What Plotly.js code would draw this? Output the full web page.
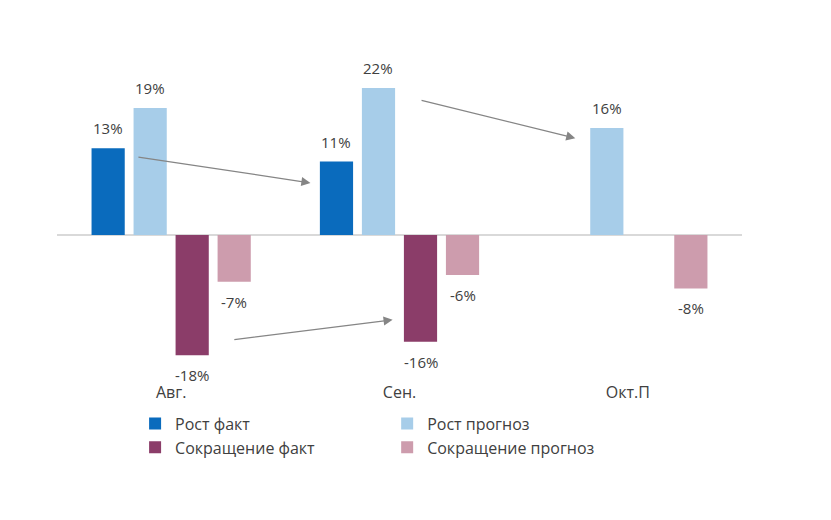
<!DOCTYPE html>
<html>
<head>
<meta charset="utf-8">
<script src="https://cdn.plot.ly/plotly-3.0.1.min.js"></script>
<style>html,body{margin:0;padding:0;background:#fff;}#chart{width:831px;height:520px;}</style>
</head>
<body>
<div id="chart"></div>
<script>
// ---- data ----
const categories = ["Авг.", "Сен.", "Окт.П"];
const seriesNames = ["Рост факт", "Рост прогноз", "Сокращение факт", "Сокращение прогноз"];
const growthFact = [13, 11, null];
const growthForecast = [19, 22, 16];
const cutFact = [-18, -16, null];
const cutForecast = [-7, -6, -8];

// ---- style ----
const colors = ["#0a6bbd", "#a7cde9", "#8b3d69", "#cd9cad"];
const legendIds = ["legend", "legend2", "legend", "legend2"];
const seriesValues = [growthFact, growthForecast, cutFact, cutForecast];
const bargap = 0.264;
const nSeries = seriesValues.length;
const slot = (1 - bargap) / nSeries;
const fontFamily = "'Open Sans', 'Noto Sans', sans-serif";

const traces = seriesValues.map((vals, i) => ({
  type: "bar",
  name: seriesNames[i],
  x: categories,
  y: vals,
  marker: {color: colors[i]},
  legend: legendIds[i],
  hoverinfo: "skip"
}));

const annotations = [];
seriesValues.forEach((vals, i) => {
  vals.forEach((v, j) => {
    if (v === null) return;
    annotations.push({
      x: j + (i - (nSeries - 1) / 2) * slot,
      y: v,
      xref: "x", yref: "y",
      text: v + "%",
      showarrow: false,
      yshift: v >= 0 ? 20 : -20,
      font: {family: fontFamily, size: 15, color: "#404040"}
    });
  });
});

// trend arrows (decorative)
const arrows = [
  {tail: [-0.15, 11.7], head: [0.61, 7.8]},
  {tail: [0.27, -15.7], head: [0.97, -12.7]},
  {tail: [1.09, 20.2], head: [1.77, 14.5]}
];
arrows.forEach(a => {
  annotations.push({
    x: a.head[0], y: a.head[1], ax: a.tail[0], ay: a.tail[1],
    xref: "x", yref: "y", axref: "x", ayref: "y",
    text: "", showarrow: true, arrowhead: 2, arrowsize: 1.4,
    arrowwidth: 1.3, arrowcolor: "#858585"
  });
});

const legendFont = {family: fontFamily, size: 16, color: "#404040"};

const layout = {
  width: 831, height: 520,
  margin: {l: 57, r: 89, t: 40, b: 139},
  paper_bgcolor: "#ffffff", plot_bgcolor: "#ffffff",
  barmode: "group",
  bargap: bargap,
  bargroupgap: 0.21,
  font: {family: fontFamily, size: 15, color: "#404040"},
  showlegend: true,
  xaxis: {
    type: "category",
    range: [-0.5, 2.5],
    showline: false, showgrid: false, zeroline: false,
    ticks: "", tickfont: {family: fontFamily, size: 16, color: "#404040"},
    fixedrange: true
  },
  yaxis: {
    range: [-21.86, 29.19],
    showgrid: false, showticklabels: false, ticks: "",
    zeroline: true, zerolinecolor: "#d9d9d9", zerolinewidth: 2,
    showline: false, fixedrange: true
  },
  legend: {
    x: 0.114, y: -0.075, xanchor: "left", yanchor: "top",
    orientation: "v", bgcolor: "rgba(0,0,0,0)",
    font: legendFont, traceorder: "normal"
  },
  legend2: {
    x: 0.482, y: -0.075, xanchor: "left", yanchor: "top",
    orientation: "v", bgcolor: "rgba(0,0,0,0)",
    font: legendFont, traceorder: "normal"
  },
  annotations: annotations
};

Plotly.newPlot("chart", traces, layout, {displayModeBar: false, staticPlot: true});
</script>
</body>
</html>
